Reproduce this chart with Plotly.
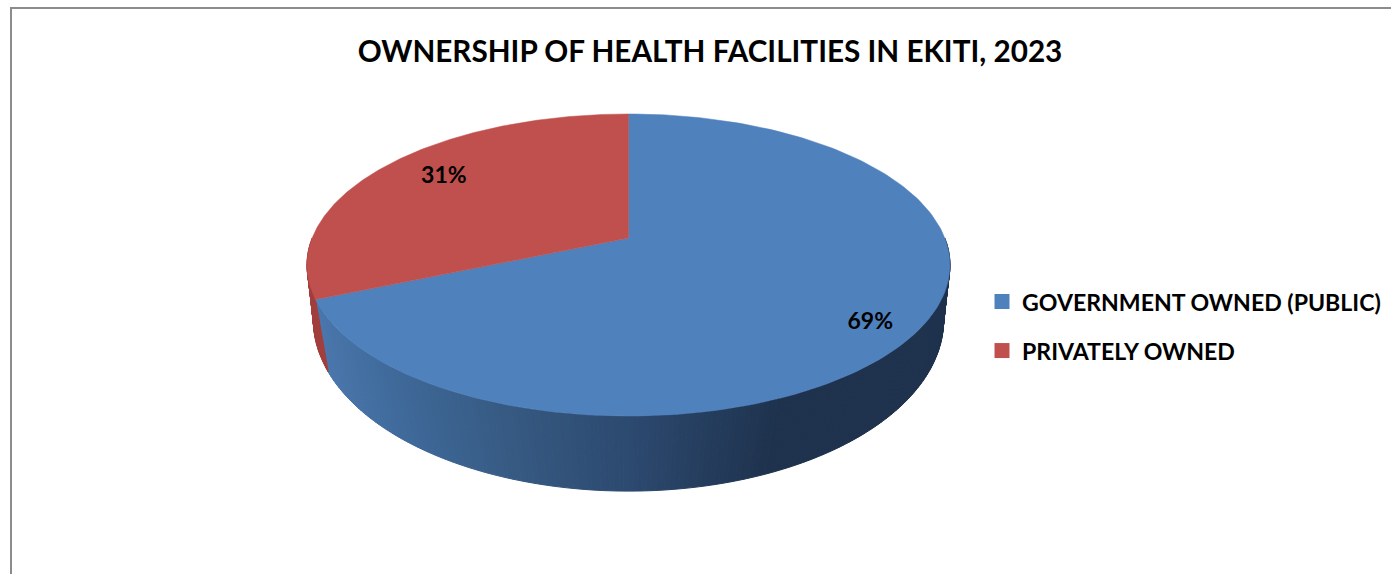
import numpy as np
import plotly.graph_objects as go

# Data
categories = ["GOVERNMENT OWNED (PUBLIC)", "PRIVATELY OWNED"]
shares = [68.6, 31.4]
share_labels = ["69%", "31%"]
label_radius = [0.85, 0.8]
label_dx = [-3, 11]
label_dy = [10, -1]
title_text = "OWNERSHIP OF HEALTH FACILITIES IN EKITI, 2023"

# Colours
top_colors = ["#4F81BD", "#C0504D"]
side_red = "#A23F3C"
shade_x = [315, 400, 520, 628, 770, 945]
shade_r = [76, 64, 54, 45, 30, 30]
shade_g = [121, 107, 90, 74, 50, 50]
shade_b = [176, 156, 130, 112, 77, 77]

W, H = 1391, 574
FONT = "Lato"

# tilted disc: perspective projection of a circle, drawn in pixel-sized axes
CX = 628.5
TOP_RIM = dict(y0=238.0, a=146.2, b=316.3, k=0.1788)
BOTTOM_RIM = dict(y0=303.0, a=169.3, b=313.5, k=0.10)


def project(turn, rim, radius=1.0):
    # turn = fraction of the pie, clockwise from 12 o'clock
    t = 2 * np.pi * np.asarray(turn, dtype=float)
    u, v = radius * np.sin(t), -radius * np.cos(t)
    d = 1 - rim["k"] * v
    return CX + rim["b"] * u / d, rim["y0"] + rim["a"] * v / d


fractions = np.array(shares) / sum(shares)
edges = np.concatenate([[0], np.cumsum(fractions)])

fig = go.Figure()

# side wall, built out of thin strips to get the shading
turns = np.sort(np.append(np.linspace(0.25, 0.75, 241), edges[1]))
for t0, t1 in zip(turns[:-1], turns[1:]):
    x0, y0 = project(t0, TOP_RIM)
    x1, y1 = project(t1, TOP_RIM)
    x2, y2 = project(t1, BOTTOM_RIM)
    x3, y3 = project(t0, BOTTOM_RIM)
    xm = (x2 + x3) / 2
    if (t0 + t1) / 2 < edges[1]:
        color = "rgb(%d,%d,%d)" % (
            np.interp(xm, shade_x, shade_r),
            np.interp(xm, shade_x, shade_g),
            np.interp(xm, shade_x, shade_b),
        )
    else:
        color = side_red
    fig.add_trace(go.Scatter(
        x=[x0, x1, x2, x3, x0], y=[y0, y1, y2, y3, y0],
        mode="lines", fill="toself", fillcolor=color,
        line=dict(color=color, width=1),
        hoverinfo="skip", showlegend=False,
    ))

# top face
for i, name in enumerate(categories):
    arc = np.linspace(edges[i], edges[i + 1], 200)
    ax, ay = project(arc, TOP_RIM)
    x = np.concatenate([[CX], ax, [CX]])
    y = np.concatenate([[TOP_RIM["y0"]], ay, [TOP_RIM["y0"]]])
    fig.add_trace(go.Scatter(
        x=x, y=y, mode="lines", fill="toself", fillcolor=top_colors[i],
        line=dict(color=top_colors[i], width=0.5),
        name=name, text=share_labels[i], hoverinfo="name+text", showlegend=False,
    ))

# percentage labels
mid = (edges[:-1] + edges[1:]) / 2
lx, ly = [], []
for m, r, dx, dy in zip(mid, label_radius, label_dx, label_dy):
    px, py = project(m, TOP_RIM, r)
    lx.append(px + dx)
    ly.append(py + dy)
fig.add_trace(go.Scatter(
    x=lx, y=ly, mode="text", text=share_labels, textposition="middle center",
    textfont=dict(family=FONT, size=23, color="#000000", weight="bold"),
    hoverinfo="skip", showlegend=False,
))

# legend swatches
for i, name in enumerate(categories):
    fig.add_trace(go.Scatter(
        x=[None], y=[None], mode="markers", name=name, legendgroup=name,
        marker=dict(symbol="square", size=15, color=top_colors[i]),
    ))

# chart frame, only the top and left edges are in view
fig.add_shape(type="line", x0=11, x1=11, y0=8, y1=H, line=dict(color="#8C8C8C", width=2))
fig.add_shape(type="line", x0=10, x1=W, y0=8, y1=8, line=dict(color="#8C8C8C", width=2))

fig.update_layout(
    width=W, height=H, autosize=False,
    margin=dict(l=0, r=0, t=0, b=0),
    paper_bgcolor="white", plot_bgcolor="white",
    title=dict(
        text="<b>" + title_text + "</b>",
        x=710 / W, xanchor="center", y=1 - 52 / H, yanchor="middle",
        font=dict(family=FONT, size=29.7, color="#000000"),
    ),
    legend=dict(
        x=982 / W, y=1 - 280 / H, xanchor="left", yanchor="top",
        font=dict(family=FONT, size=23.1, color="#000000", weight="bold"),
        tracegroupgap=16, bgcolor="rgba(0,0,0,0)",
    ),
    xaxis=dict(range=[0, W], visible=False, fixedrange=True),
    yaxis=dict(range=[H, 0], visible=False, fixedrange=True),
)

fig.write_html(
    "out.html",
    config=dict(displayModeBar=False),
    post_script="document.body.style.margin='0';",
)
